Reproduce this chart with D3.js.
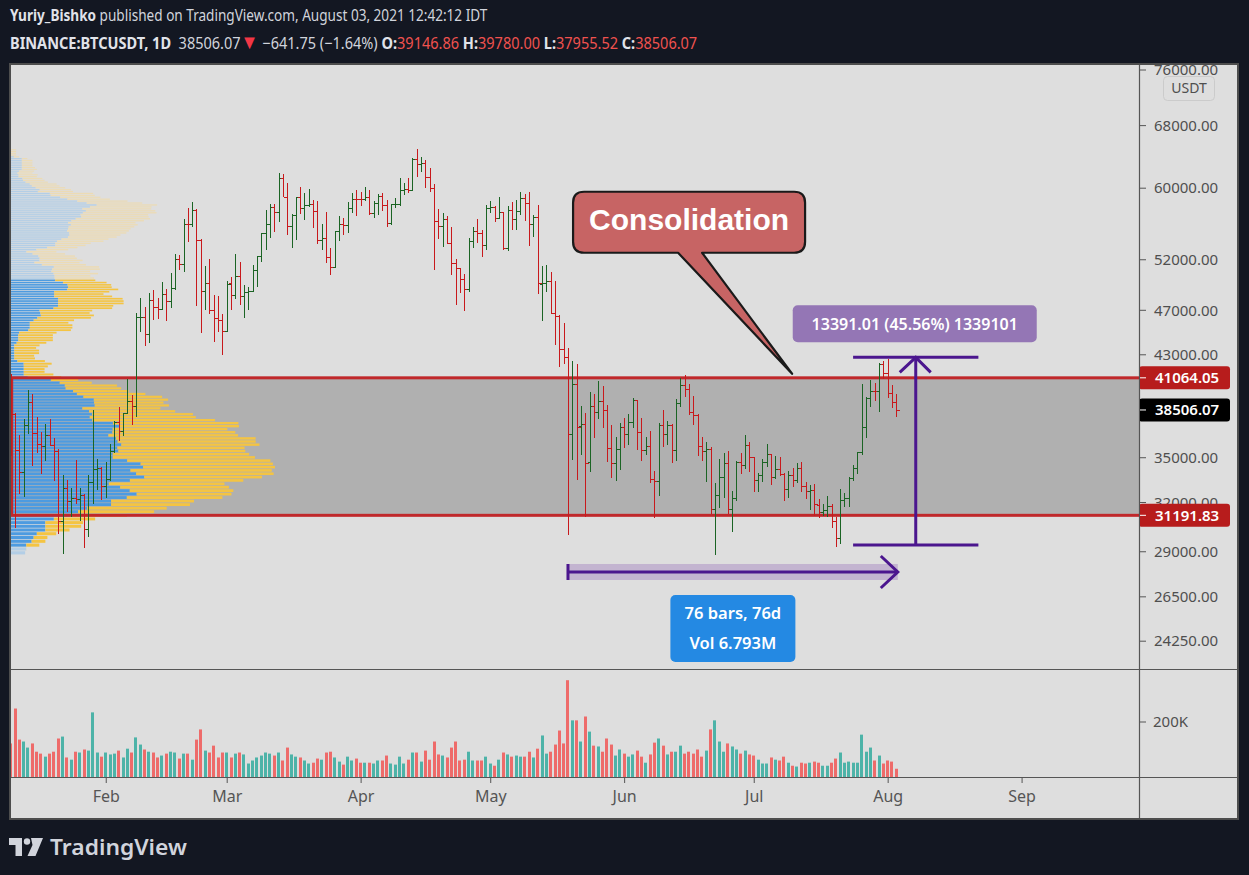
<!DOCTYPE html>
<html><head><meta charset="utf-8">
<script src="https://cdn.jsdelivr.net/npm/d3@7"></script>
<style>html,body{margin:0;padding:0;background:#131722;}svg{display:block}</style>
</head><body>
<svg id="c" width="1249" height="875"></svg>
<script>
// ---------------- DATA ----------------
const startDate = "2021-01-10";   // first bar, one bar per day
// [open, high, low, close]
const ohlc = [
[40151,41380,35111,38191],[38191,38264,30420,35544],[35544,36628,32531,34011],[34012,37850,32380,37393],
[37394,40100,36701,39158],[39145,39747,34408,36770],[36770,37950,35357,36006],[36001,36852,33850,35828],
[35828,37469,34800,36631],[36622,37850,35844,35891],[35902,36415,33400,35468],[35468,35600,30071,30850],
[30851,33826,28850,32945],[32950,33456,31390,32078],[32078,32944,31106,32259],[32259,34875,31910,32254],
[32254,32921,30837,32467],[32464,32557,29241,30366],[30362,33783,29842,33364],[33368,38531,31915,34252],
[34246,34933,32825,34262],[34262,34342,32171,33092],[33093,34717,32296,33526],[33518,35984,33418,35466],
[35467,37662,35363,37618],[37618,38708,36161,36936],[36936,38310,36570,38290],[38289,40955,38215,39186],
[39181,39700,37351,38795],[38795,46794,37988,46374],[46374,48142,45000,46420],[46421,47310,43727,44807],
[44808,48678,43994,47969],[47968,48985,46125,47287],[47298,48150,46202,47153],[47157,49707,47015,48577],
[48581,49010,46000,47911],[47911,50620,47226,49133],[49134,52618,48947,52119],[52118,52530,50901,51552],
[51553,56368,50710,55906],[55906,57700,53863,55841],[55841,58352,55477,57408],[57413,57533,47400,54087],
[54088,54183,44892,48891],[48891,51374,47003,49676],[49677,52041,46674,47073],[47056,48424,44106,46277],
[46276,48394,45000,46106],[46103,46638,43000,45135],[45134,49790,45115,49587],[49595,50200,47047,48440],
[48437,52640,48100,50349],[50349,51773,47500,48374],[48374,49448,46300,48751],[48747,49200,47070,48882],
[48882,51450,48882,50971],[50959,52402,49274,52375],[52376,54895,51789,54884],[54875,57387,53005,55851],
[55851,58150,54273,57773],[57773,58081,54962,57221],[57222,61844,56078,61188],[61188,61682,58966,58968],
[58976,60633,54600,55605],[55606,56938,53271,56900],[56900,58982,54123,58912],[58912,60100,57023,57648],
[57642,59468,56270,58030],[58030,59880,57820,58102],[58100,58589,55450,57351],[57352,58430,53650,54083],
[54083,55830,53000,54340],[54342,57200,51700,52303],[52304,53229,50427,51293],[51293,55073,51225,55025],
[55025,56700,53950,55817],[55817,56559,54691,55777],[55782,58400,54900,57635],[57635,59368,57071,58746],
[58749,59800,56769,58740],[58736,59490,57935,58720],[58721,60200,58428,58950],[58951,59791,56880,57051],
[57052,58500,56478,58202],[58202,59251,56817,59130],[59130,59474,57333,57992],[57991,58650,55473,56000],
[55995,58153,55700,58088],[58088,58869,57677,58092],[58092,61218,57875,59778],[59779,60658,59177,59846],
[59846,61200,59370,59790],[59790,63774,59700,63589],[63576,64854,61301,62959],[62959,63800,62020,63159],
[63158,63520,60000,61334],[61334,62506,59580,60006],[60006,60499,50931,56150],[56150,57526,54222,55633],
[55634,57048,53329,56425],[56425,56757,53695,53787],[53788,55470,50400,51690],[51690,52120,47500,51125],
[51110,51166,48657,50047],[50047,50567,46930,49004],[49004,54356,48753,54021],[54031,55466,53222,55033],
[55033,56428,53813,54824],[54825,55200,52330,53555],[53556,58075,53013,57697],[57697,58458,57052,57797],
[57797,57911,56035,56578],[56578,58981,56435,57169],[57169,57200,53046,53200],[53200,57939,52900,57436],
[57436,58360,55200,56393],[56393,58650,55241,57314],[57315,59500,56900,58862],[58866,59300,56235,58240],
[58240,59500,53400,55816],[55817,56900,54370,56670],[56670,58000,48600,49631],[49537,51330,46000,49671],
[49672,51483,48800,49841],[49842,50700,46650,46762],[46762,49795,43825,46432],[46426,46544,42001,43538],
[43538,45799,42250,42849],[42849,43547,30000,36690],[36671,42451,34850,40526],[40526,42200,33488,37252],
[37263,38830,35200,37449],[37449,38270,31111,34655],[34681,39920,34031,38796],[38796,39791,36419,38324],
[38325,40841,37800,39241],[39241,40411,37134,38529],[38530,38877,34684,35664],[35661,37338,33632,34605],
[34605,36488,33379,35641],[35641,37499,34153,37253],[37253,37894,35666,36694],[36694,38225,35920,37569],
[37568,39476,37170,39246],[39246,39289,35555,36829],[36829,37925,34800,35513],[35516,36480,35222,35796],
[35796,36900,33300,33552],[33556,34068,31000,33380],[33380,37534,32396,37388],[37389,38491,35782,36675],
[36677,37680,35936,37331],[37331,37463,34600,35546],[35546,39380,34757,39020],[39020,41064.05,38730,40516],
[40516,41330,39506,40144],[40143,40527,38116,38349],[38349,39560,37365,38092],[38098,38200,35129,35820],
[35820,36457,34803,35483],[35483,36139,33336,35600],[35600,35750,31251,31608],[31614,33298,28805,32509],
[32509,34881,31683,33678],[33676,35298,32286,34664],[34664,35500,31275,31594],[31576,32730,30151,32283],
[32283,34749,32071,34700],[34702,35297,33862,34494],[34494,36600,34225,35911],[35911,36100,34017,35045],
[35045,35057,32711,33504],[33502,33977,32699,33786],[33786,34945,33316,34669],[34668,35967,34357,35287],
[35288,35293,33125,33690],[33690,35118,33532,34220],[34220,35059,33777,33862],[33863,33929,32077,32875],
[32875,34100,32261,33815],[33815,34262,33004,33502],[33502,34666,33307,34259],[34259,34678,32658,33086],
[33086,33340,32202,32730],[32730,33114,31550,32820],[32820,33185,31133,31880],[31874,32249,31020,31383],
[31383,31935,31164,31520],[31520,32435,31108,31778],[31779,31899,30407,30839],[30839,31063,29278,29790],
[29790,32858,29482,32144],[32144,32591,31708,32287],[32288,33650,31714,33634],[33634,34500,33401,34258],
[34262,35398,33851,35381],[35381,40550,35205,37237],[37241,39542,36383,39457],[39456,40900,38772,40019],
[40018,40640,39200,40016],[40016,42317,38316,42206],[42206,42448,41000,41461],[41461,42599,39422,39846],
[39850,40499,38690,39147],[39146.86,39780,37955.52,38506.07]
];
// daily volume, thousands of BTC
const volumeK = [
122,249,136,129,107,122,92,85,74,85, 92,140,147,71,63,92,89,100,96,235,
89,74,89,82,85,96,71,103,89,144, 118,100,92,89,71,78,85,92,89,67,
85,85,63,136,173,96,89,114,71,89, 89,71,85,89,82,49,60,71,78,89,
85,78,89,60,107,82,74,71,60,49, 52,67,63,89,92,71,56,45,74,60,
67,52,52,52,49,60,60,78,49,45, 74,49,63,89,89,56,96,63,129,82,
78,71,
107,129,60,63,92,60,60,60,74,
49,41,63,89,82,74,78,74,74,92, 71,103,151,85,92,118,169,122,352,206,
206,129,220,165,114,111,92,140,118,78, 100,
85,74,82,96,74,52,82,125,140,114, 82,92,92,114,85,92,85,100,74,96,
173,206,129,92,122,111,100,85,96,82,
78,63,49,49,71,63,60,74,52,41, 38,52,49,52,56,52,41,41,52,67,
89,52,56,52,52,154,92,107,60,78, 49,
60,56,30
];
const priceTicks = [76000,68000,60000,52000,47000,43000,39000,35000,32000,29000,26500,24250];
const volumeTicks = [200000];
const monthTicks = ["2021-02-01","2021-03-01","2021-04-01","2021-05-01","2021-06-01","2021-07-01","2021-08-01","2021-09-01"];
const zoneTop = 41064.05, zoneBottom = 31191.83, lastPrice = 38506.07;
const rangeLow = 29391.83, rangeHigh = 42782.84;
const rangeDates = ["2021-07-24","2021-08-07T12:00","2021-08-22"];
const rangeLabel = "13391.01 (45.56%) 1339101";
const dateRange = ["2021-05-19","2021-08-03"], dateRangePrice = 27850;
const dateRangeLabel = ["76 bars, 76d", "Vol 6.793M"];
const calloutText = "Consolidation";
const calloutTip = {date:"2021-07-09T21:00", price:41400};
const header1 = [["Yuriy_Bishko",700,"#e1e3ea",null],[" published on TradingView.com, August 03, 2021 12:42:12 IDT",400,"#d1d4dc",null]];
const header2 = [["BINANCE:BTCUSDT, 1D",700,"#e1e3ea",null],["  38506.07",400,"#d1d4dc",null],["\u25BC",400,"#f23645",20],[" \u2212641.75 (\u22121.64%) ",400,"#d1d4dc",null],
 ["O:",700,"#e1e3ea",null],["39146.86 ",400,"#f0524f",null],["H:",700,"#e1e3ea",null],["39780.00 ",400,"#f0524f",null],["L:",700,"#e1e3ea",null],["37955.52 ",400,"#f0524f",null],["C:",700,"#e1e3ea",null],["38506.07",400,"#f0524f",null]];

// ---------------- SETUP ----------------
const FONT = "'Noto Sans','Open Sans',sans-serif";
const svg = d3.select("#c");
const parse = s => new Date(s + (s.length===10 ? "T00:00:00Z" : "Z"));
const day0 = parse(startDate);
const bars = ohlc.map((d,i)=>({date:d3.utcDay.offset(day0,i), o:d[0],h:d[1],l:d[2],c:d[3], v:volumeK[i]*1000, up:d[3]>=d[0]}));

const x = d3.scaleUtc().domain([parse("2021-01-10"), parse("2021-09-01")]).range([10.7, 10.7+234*4.32]);
const y = d3.scaleLog().domain([76000,24250]).range([70,641.2]);
const yv = d3.scaleLinear().domain([0,200000]).range([777,722]);

const PL=11, PR=1139, PT=65, PB=668, VT=670, VB=777, AR=1238;

// frame
svg.append("rect").attr("x",10).attr("y",64).attr("width",1228).attr("height",755)
  .attr("fill","#dedede").attr("stroke","#4d4d4d").attr("stroke-width",2);

const defs = svg.append("defs");
defs.append("clipPath").attr("id","plot").append("rect").attr("x",PL).attr("y",PT).attr("width",PR-PL).attr("height",PB-PT);
defs.append("clipPath").attr("id","vol").append("rect").attr("x",PL).attr("y",VT).attr("width",PR-PL).attr("height",VB-VT);
defs.append("clipPath").attr("id","axis").append("rect").attr("x",PR+1).attr("y",PT).attr("width",AR-PR-1).attr("height",PB-PT);

// ---------------- PRICE PANE ----------------
const plot = svg.append("g").attr("clip-path","url(#plot)");
const zx0 = x(parse("2021-01-10"))+1, zx1 = x(parse("2021-10-01"));
plot.append("rect").attr("x",zx0).attr("y",y(zoneTop)).attr("width",zx1-zx0).attr("height",y(zoneBottom)-y(zoneTop)).attr("fill","#b0b0b0");

// volume profile (visible range), computed from bars
const NROWS = 160;
const pMin = d3.min(bars,d=>d.l), pMax = d3.max(bars,d=>d.h), step=(pMax-pMin)/NROWS;
const rows = d3.range(NROWS).map(r=>({lo:pMin+r*step, hi:pMin+(r+1)*step, up:0, dn:0}));
bars.forEach(b=>{
  const span = Math.max(b.h-b.l,1);
  rows.forEach(r=>{
    const ov = Math.min(r.hi,b.h)-Math.max(r.lo,b.l);
    if(ov>0){ const s=b.v*ov/span; if(b.up) r.up+=s; else r.dn+=s; }
  });
});
rows.forEach(r=>r.tot=r.up+r.dn);
const total = d3.sum(rows,r=>r.tot);
let poc = d3.maxIndex(rows,r=>r.tot), a=poc, bI=poc, acc=rows[poc].tot;
while(acc < total*0.7 && (a>0 || bI<NROWS-1)){
  const below = a>0 ? rows[a-1].tot : -1, above = bI<NROWS-1 ? rows[bI+1].tot : -1;
  if(above>=below){ bI++; acc+=rows[bI].tot; } else { a--; acc+=rows[a].tot; }
}
rows.forEach((r,i)=>r.va = i>=a && i<=bI);
const wv = d3.scaleLinear().domain([0,d3.max(rows,r=>r.tot)]).range([0,264]);
const vp = plot.append("g");
rows.forEach(r=>{
  const yt=y(r.hi), yb=y(r.lo), hh=Math.max(0.6,(yb-yt)-0.7);
  vp.append("rect").attr("x",PL).attr("y",yt).attr("width",wv(r.up)).attr("height",hh).attr("fill",r.va?"#4d9be0":"#b3cee6");
  vp.append("rect").attr("x",PL+wv(r.up)).attr("y",yt).attr("width",wv(r.dn)).attr("height",hh).attr("fill",r.va?"#f4c443":"#ecdbb4");
});

// zone outline
plot.append("rect").attr("x",zx0).attr("y",y(zoneTop)).attr("width",zx1-zx0).attr("height",y(zoneBottom)-y(zoneTop))
  .attr("fill","none").attr("stroke","#c0282b").attr("stroke-width",3);

// OHLC bars
const GREEN="#1b6424", RED="#c8191c";
const bg = plot.append("g").attr("stroke-width",1).attr("shape-rendering","crispEdges");
bars.forEach(b=>{
  const cx = Math.round(x(b.date))+0.5, col = b.up?GREEN:RED;
  bg.append("line").attr("x1",cx).attr("x2",cx).attr("y1",y(b.h)).attr("y2",y(b.l)).attr("stroke",col);
  bg.append("line").attr("x1",cx-3).attr("x2",cx).attr("y1",Math.round(y(b.o))+0.5).attr("y2",Math.round(y(b.o))+0.5).attr("stroke",col);
  bg.append("line").attr("x1",cx).attr("x2",cx+3.5).attr("y1",Math.round(y(b.c))+0.5).attr("y2",Math.round(y(b.c))+0.5).attr("stroke",col);
});

// callout
{
  const tx = x(parse(calloutTip.date)), ty = y(calloutTip.price);
  const bx0=tx-219, bx1=tx+13, by0=ty-182, by1=ty-121, r=11, t1=tx-114, t2=tx-90;
  const p = `M${bx0+r},${by0}H${bx1-r}Q${bx1},${by0} ${bx1},${by0+r}V${by1-r}Q${bx1},${by1} ${bx1-r},${by1}H${t2}L${tx},${ty}L${t1},${by1}H${bx0+r}Q${bx0},${by1} ${bx0},${by1-r}V${by0+r}Q${bx0},${by0} ${bx0+r},${by0}Z`;
  plot.append("path").attr("d",p).attr("fill","#c76464").attr("stroke","#1a1a1a").attr("stroke-width",2.2).attr("stroke-linejoin","round");
  plot.append("text").attr("x",(bx0+bx1)/2).attr("y",by0+38).attr("text-anchor","middle")
    .attr("font-family","'Liberation Sans',Arial,sans-serif").attr("font-weight",700).attr("font-size",30).attr("fill","#fff").text(calloutText);
}

// price range tool
{
  const PUR="#4b168e";
  const xa=x(parse(rangeDates[0])), xm=x(parse(rangeDates[1])), xb=x(parse(rangeDates[2]));
  const yh=y(rangeHigh), yl=y(rangeLow);
  const g=plot.append("g").attr("stroke",PUR).attr("stroke-width",3).attr("fill","none");
  g.append("line").attr("x1",xa).attr("x2",xb).attr("y1",yh).attr("y2",yh);
  g.append("line").attr("x1",xa).attr("x2",xb).attr("y1",yl).attr("y2",yl);
  g.append("line").attr("x1",xm).attr("x2",xm).attr("y1",yl).attr("y2",yh+1);
  g.append("polyline").attr("points",`${xm-16},${yh+15} ${xm},${yh} ${xm+15},${yh+15}`);
  const lw=244, lh=37, ly=yh-52;
  plot.append("rect").attr("x",xm-lw/2-1).attr("y",ly).attr("width",lw).attr("height",lh).attr("rx",5).attr("fill","#9476b5");
  plot.append("text").attr("class","rl").attr("x",xm-1).attr("y",ly+25).attr("text-anchor","middle")
    .attr("font-family",FONT).attr("font-weight",600).attr("font-size",16).attr("fill","#fff").text(rangeLabel);
}

// date range tool
{
  const PUR="#4b168e";
  const xa=x(parse(dateRange[0])), xb=x(parse(dateRange[1]))+1.5, yy=y(dateRangePrice);
  plot.append("rect").attr("x",xa).attr("y",yy-8).attr("width",xb-xa).attr("height",16).attr("fill","#c3b4d0");
  const g=plot.append("g").attr("stroke",PUR).attr("stroke-width",3).attr("fill","none");
  g.append("line").attr("x1",xa).attr("x2",xb).attr("y1",yy).attr("y2",yy);
  g.append("line").attr("x1",xa).attr("x2",xa).attr("y1",yy-8).attr("y2",yy+8);
  g.append("polyline").attr("points",`${xb-17},${yy-16} ${xb},${yy} ${xb-17},${yy+16}`);
  const cx=(xa+xb)/2, bw=125, bh=67, by=yy+23;
  plot.append("rect").attr("x",cx-bw/2).attr("y",by).attr("width",bw).attr("height",bh).attr("rx",5).attr("fill","#2489e3");
  dateRangeLabel.forEach((t,i)=>plot.append("text").attr("x",cx).attr("y",by+24+i*30).attr("text-anchor","middle")
    .attr("font-family",FONT).attr("font-weight",600).attr("font-size",16.5).attr("fill","#fff").text(t));
}

// ---------------- VOLUME PANE ----------------
const vol = svg.append("g").attr("clip-path","url(#vol)");
bars.forEach(b=>{
  const cx = x(b.date);
  vol.append("rect").attr("x",Math.round(cx-1.5)).attr("width",3).attr("y",yv(b.v)).attr("height",VB-yv(b.v))
    .attr("fill",b.up?"#4db3a8":"#ee6b6a");
});

// ---------------- SEPARATORS / AXES ----------------
const sep = svg.append("g").attr("stroke","#555").attr("stroke-width",1.2);
sep.append("line").attr("x1",PL).attr("x2",AR).attr("y1",669.5).attr("y2",669.5);
sep.append("line").attr("x1",PL).attr("x2",AR).attr("y1",777.5).attr("y2",777.5);
sep.append("line").attr("x1",1139.5).attr("x2",1139.5).attr("y1",PT).attr("y2",818);

// price axis
const pa = svg.append("g").attr("clip-path","url(#axis)");
priceTicks.forEach(t=>{
  pa.append("line").attr("x1",1140).attr("x2",1146).attr("y1",y(t)).attr("y2",y(t)).attr("stroke","#555");
  pa.append("text").attr("x",1154).attr("y",y(t)).attr("dy","0.35em").attr("font-family",FONT).attr("font-size",15)
    .attr("fill","#4f4f4f").text(d3.format(".2f")(t));
});
// unit box
pa.append("rect").attr("x",1163.5).attr("y",76.5).attr("width",51).attr("height",24).attr("rx",4).attr("fill","#dedede").attr("stroke","#cbcbcb");
pa.append("text").attr("x",1189).attr("y",88.5).attr("dy","0.35em").attr("text-anchor","middle").attr("font-family",FONT).attr("font-size",14).attr("fill","#4f4f4f").text("USDT");
// value labels
[[zoneTop,"#b71c1c"],[lastPrice,"#000000"],[zoneBottom,"#b71c1c"]].forEach(([v,c])=>{
  pa.append("rect").attr("x",1139).attr("y",y(v)-11.5).attr("width",91).attr("height",23).attr("rx",3).attr("fill",c);
  pa.append("line").attr("x1",1140).attr("x2",1146).attr("y1",y(v)).attr("y2",y(v)).attr("stroke","#fff");
  pa.append("text").attr("x",1155).attr("y",y(v)).attr("dy","0.36em").attr("font-family",FONT).attr("font-weight",600)
    .attr("font-size",15).attr("fill","#fff").text(d3.format(".2f")(v));
});
// volume axis
volumeTicks.forEach(t=>{
  svg.append("line").attr("x1",1140).attr("x2",1146).attr("y1",yv(t)).attr("y2",yv(t)).attr("stroke","#555");
  svg.append("text").attr("x",1153).attr("y",yv(t)).attr("dy","0.35em").attr("font-family",FONT).attr("font-size",15)
    .attr("fill","#4f4f4f").text(d3.format(".0s")(t).replace("k","K"));
});
// time axis
const ta = svg.append("g").attr("transform","translate(0,777)");
ta.call(d3.axisBottom(x).tickValues(monthTicks.map(parse)).tickFormat(d3.utcFormat("%b")).tickSize(6).tickPadding(8));
ta.select(".domain").remove();
ta.selectAll(".tick line").attr("stroke","#555");
ta.selectAll(".tick text").attr("font-family",FONT).attr("font-size",16).attr("fill","#555");

// ---------------- HEADER ----------------
function fitRow(parts, x0, yb, width, size){
  const t = svg.append("text").attr("x",0).attr("y",0).attr("font-family",FONT).attr("font-size",size);
  parts.forEach(([s,w,c,fs])=>{ const ts=t.append("tspan").attr("font-weight",w).attr("fill",c).text(s); if(fs) ts.attr("font-size",fs); });
  t.attr("xml:space","preserve").style("white-space","pre");
  const k = width / t.node().getComputedTextLength();
  t.attr("transform",`translate(${x0},${yb}) scale(${k},1)`);
}
fitRow(header1, 10, 20.5, 478, 16);
fitRow(header2, 10, 48.5, 688, 16);

// footer logo
{
  const g = svg.append("g").attr("fill","#d1d4dc");
  g.append("path").attr("d","M9,838H22V856H15.5V845H9Z");
  g.append("circle").attr("cx",27).attr("cy",841.5).attr("r",3.2);
  g.append("path").attr("d","M31,838H43L35.5,856H27.5L32.5,845Z");
  fitRow([["TradingView",600,"#d1d4dc",null]], 50, 854.5, 137, 21);
}
</script>
</body></html>
